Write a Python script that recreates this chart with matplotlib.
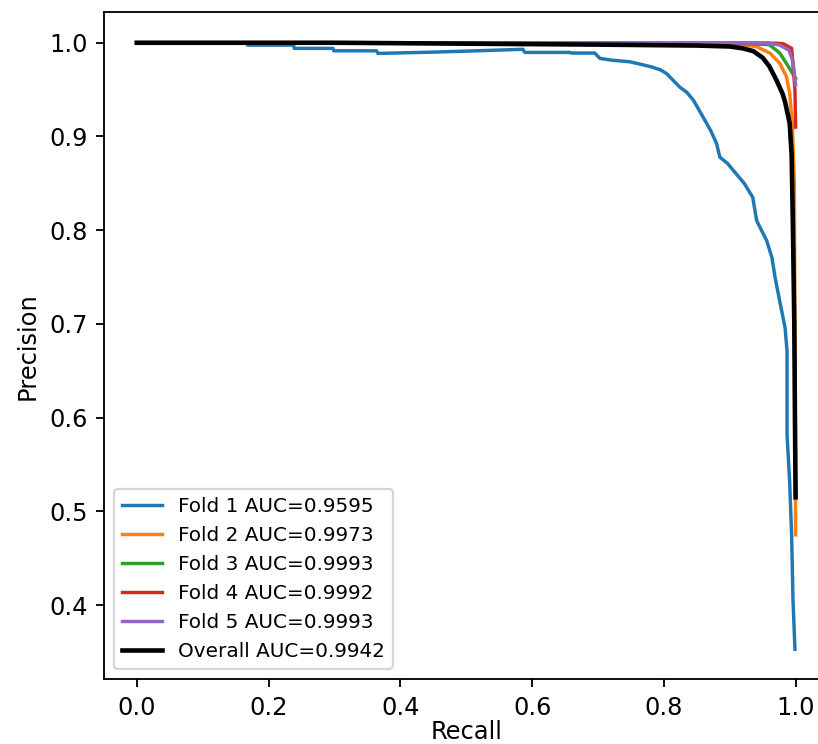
import numpy as np
import matplotlib
matplotlib.use('Agg')
from matplotlib import pyplot as plt

plt.rcParams['font.size'] = 10.5

# precision-recall points per fold
fold1_recall = [0.0, 0.167, 0.168, 0.238, 0.239, 0.298, 0.299, 0.364, 0.366, 0.45, 0.52, 0.586, 0.589,
                0.657, 0.66, 0.695, 0.703, 0.72, 0.749, 0.765, 0.781, 0.795, 0.804, 0.824, 0.835, 0.845,
                0.865, 0.872, 0.880, 0.885, 0.897, 0.910, 0.922, 0.935, 0.938, 0.941, 0.956, 0.964, 0.969,
                0.976, 0.984, 0.987, 0.987, 0.991, 0.994, 0.996, 0.999]
fold1_precision = [1.0, 1.0, 0.9975, 0.9975, 0.994, 0.994, 0.9914, 0.9914, 0.9886, 0.990, 0.9915, 0.993, 0.9897,
                   0.9897, 0.989, 0.989, 0.9833, 0.9815, 0.9796, 0.977, 0.9743, 0.971, 0.9672, 0.9528, 0.947, 0.9386,
                   0.914, 0.905, 0.8925, 0.878, 0.871, 0.860, 0.850, 0.835, 0.822, 0.810, 0.789, 0.771, 0.749,
                   0.724, 0.696, 0.671, 0.582, 0.531, 0.474, 0.406, 0.353]

fold2_recall = [0.0, 0.3, 0.6, 0.85, 0.92, 0.941, 0.961, 0.976, 0.986, 0.991, 0.995, 0.998, 0.999, 1.0]
fold2_precision = [1.0, 1.0, 0.9995, 0.999, 0.998, 0.9957, 0.989, 0.978, 0.964, 0.946, 0.914, 0.85, 0.70, 0.475]

fold3_recall = [0.0, 0.5, 0.9, 0.96, 0.976, 0.986, 0.993, 1.0]
fold3_precision = [1.0, 1.0, 0.9995, 0.998, 0.989, 0.978, 0.97, 0.962]

fold4_recall = [0.0, 0.5, 0.9, 0.97, 0.981, 0.994, 0.999, 1.0]
fold4_precision = [1.0, 1.0, 1.0, 0.9995, 0.999, 0.994, 0.95, 0.91]

fold5_recall = [0.0, 0.5, 0.9, 0.96, 0.976, 0.99, 0.996, 1.0]
fold5_precision = [1.0, 1.0, 1.0, 0.9995, 0.9975, 0.992, 0.98, 0.955]

overall_recall = [0.0, 0.3, 0.5, 0.7, 0.85, 0.9, 0.92, 0.936, 0.95, 0.96, 0.971, 0.98, 0.984, 0.991,
                  0.994, 0.996, 0.998, 0.999, 1.0]
overall_precision = [1.0, 1.0, 0.999, 0.998, 0.997, 0.996, 0.994, 0.991, 0.984, 0.975, 0.960, 0.946, 0.937,
                     0.914, 0.88, 0.80, 0.70, 0.60, 0.515]

fold_auc = [0.9595, 0.9973, 0.9993, 0.9992, 0.9993]
overall_auc = 0.9942

folds = [(fold1_recall, fold1_precision), (fold2_recall, fold2_precision),
         (fold3_recall, fold3_precision), (fold4_recall, fold4_precision),
         (fold5_recall, fold5_precision)]

fig = plt.figure(figsize=(818 / 165, 744 / 165), dpi=165)
ax = fig.add_axes([0.1269, 0.0867, 0.886, 0.8966])

for i, (rec, prec) in enumerate(folds):
    ax.plot(rec, prec, label='Fold %d AUC=%.4f' % (i + 1, fold_auc[i]))
ax.plot(overall_recall, overall_precision, color='black', lw=2,
        label='Overall AUC=%.4f' % overall_auc)

ax.set_xlabel('Recall', labelpad=0)
ax.set_ylabel('Precision')
ax.legend(loc='lower left', fontsize='small')

fig.savefig('out.png', dpi=165)
